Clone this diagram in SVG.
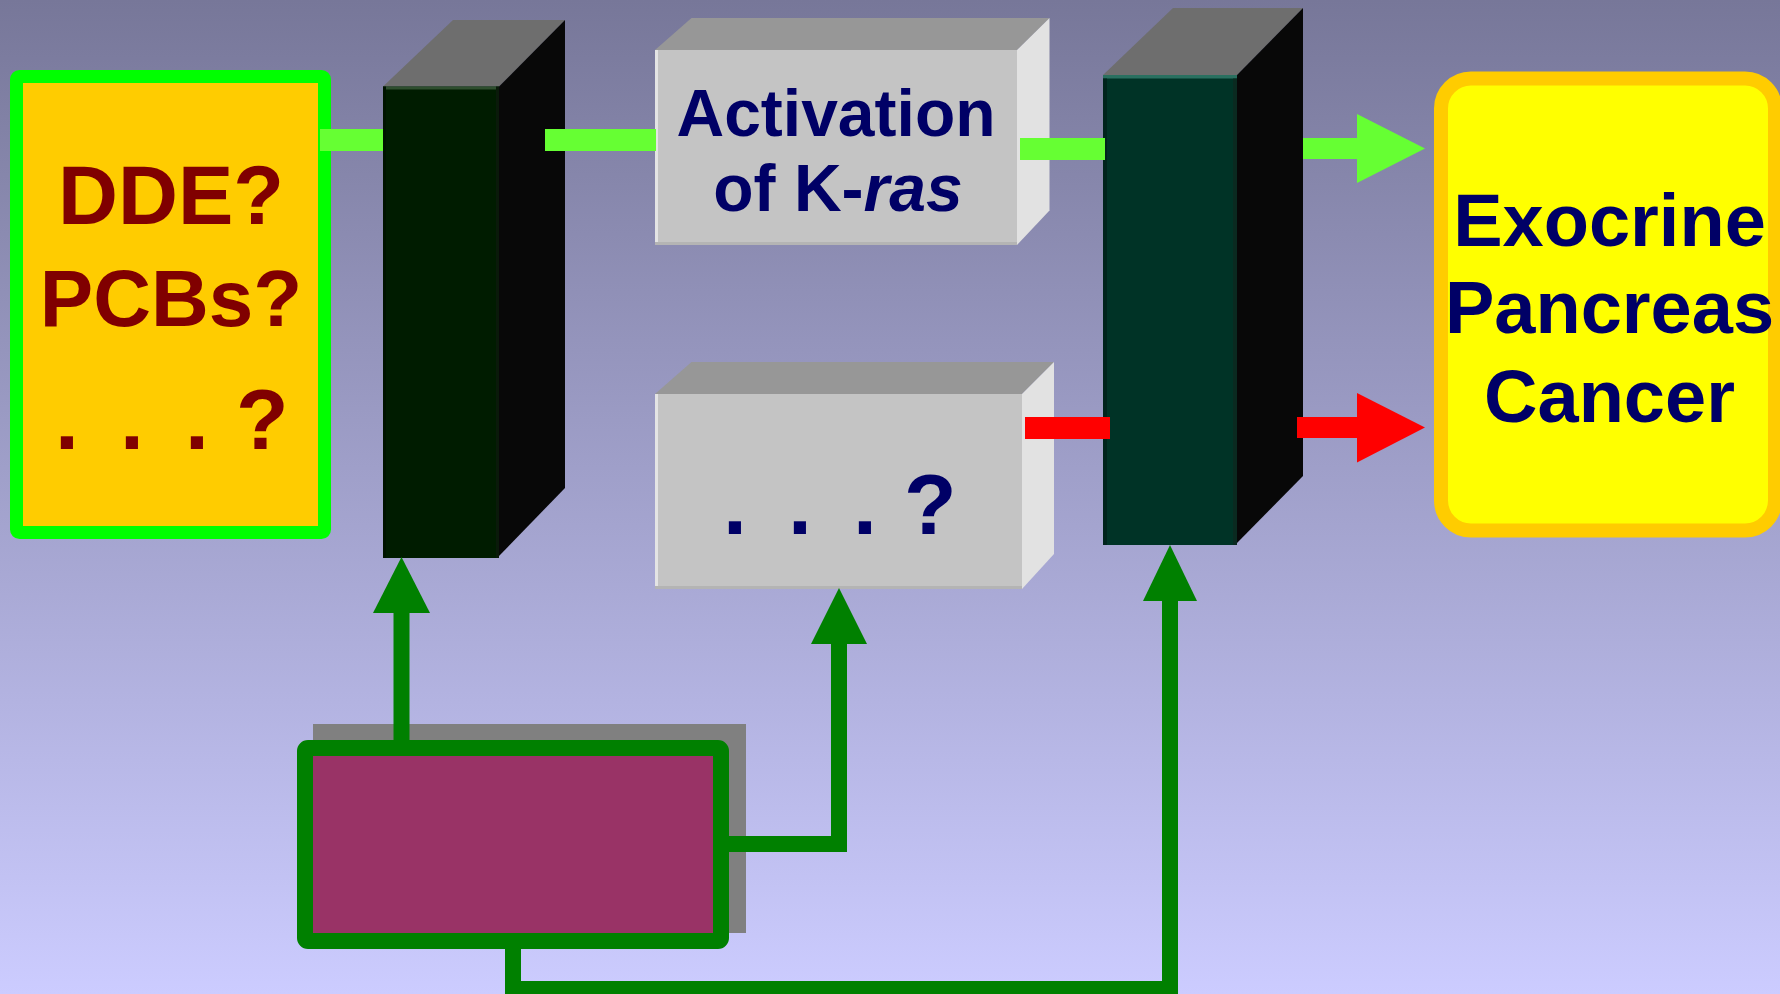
<svg xmlns="http://www.w3.org/2000/svg" width="1780" height="994" viewBox="0 0 1780 994">
<defs>
<linearGradient id="bg" x1="0" y1="0" x2="0" y2="1">
<stop offset="0" stop-color="#777799"/>
<stop offset="1" stop-color="#ccccff"/>
</linearGradient>
<style>
text{font-family:"Liberation Sans",Arial,sans-serif;font-weight:bold;}
.maroon{fill:#800000;font-size:83px;}
.navy{fill:#000066;}
.lime{fill:#66ff33;}
.red{fill:#ff0000;}
.dg{fill:none;stroke:#008000;stroke-width:16;stroke-linejoin:miter;stroke-linecap:butt;}
.dgh{fill:#008000;}
.top{fill:#6e6e6e;}
.side{fill:#080808;}
.gtop{fill:#979797;}
.gfront{fill:#c4c4c4;}
.gside{fill:#e2e2e2;}
</style>
</defs>
<rect x="0" y="0" width="1780" height="994" fill="url(#bg)"/>

<g id="exposure">
<rect x="16.5" y="76.5" width="308" height="456" rx="3" fill="#ffcc00" stroke="#00ff00" stroke-width="13"/>
<text class="maroon" x="171" y="224" text-anchor="middle">DDE?</text>
<text class="maroon" x="171" y="326" text-anchor="middle" style="font-size:80px">PCBs?</text>
<text class="maroon" x="55 120 185 236" y="449" style="font-size:86px">...?</text>
</g>

<g id="block1">
<polygon class="top" points="383,86.5 453,20 565,20 499,86.5"/>
<polygon class="side" points="499,86.5 565,20 565,488 499,556"/>
<rect x="383" y="86.5" width="116" height="471.5" fill="#001c00"/>
<rect x="383" y="86.5" width="116" height="3" fill="#2e4e2e"/>
<rect x="383" y="86.5" width="3" height="471.5" fill="#001400"/>
<rect x="496" y="86.5" width="3" height="471.5" fill="#0a1a0a"/>
</g>

<g id="kras">
<polygon class="gtop" points="655,50 691.5,18 1049.5,18 1017,50"/>
<polygon class="gside" points="1017,50 1049.5,18 1049.5,210.5 1017,245"/>
<rect class="gfront" x="655" y="50" width="362" height="195"/>
<rect x="655" y="50" width="3" height="195" fill="#e4e4e4"/>
<rect x="655" y="242" width="362" height="3" fill="#b4b4b4"/>
<text class="navy" x="836" y="136" text-anchor="middle" style="font-size:66px">Activation</text>
<text class="navy" x="838" y="211" text-anchor="middle" style="font-size:66px">of K-<tspan font-style="italic">ras</tspan></text>
</g>

<g id="unknown">
<polygon class="gtop" points="655,394 691.5,362 1054,362 1022,394"/>
<polygon class="gside" points="1022,394 1054,362 1054,554 1022,589"/>
<rect class="gfront" x="655" y="394" width="367" height="195"/>
<rect x="655" y="394" width="3" height="195" fill="#e4e4e4"/>
<rect x="655" y="586" width="367" height="3" fill="#b4b4b4"/>
<text class="navy" x="723 788 853 904" y="534" style="font-size:86px">...?</text>
</g>

<g id="block2">
<polygon class="top" points="1103,75 1173,8 1303,8 1237,75"/>
<polygon class="side" points="1237,75 1303,8 1303,476 1237,543"/>
<rect x="1103" y="75" width="134" height="470" fill="#003326"/>
<rect x="1103" y="75" width="134" height="3.5" fill="#2a7060"/>
<rect x="1103" y="78.5" width="4" height="466.5" fill="#00241c"/>
<rect x="1233" y="78.5" width="4" height="466.5" fill="#0a2a20"/>
</g>

<g id="cancer">
<rect x="1441" y="78.5" width="334" height="452" rx="30" fill="#ffff00" stroke="#ffcc00" stroke-width="14"/>
<text class="navy" x="1609.5" y="246" text-anchor="middle" style="font-size:74px">Exocrine</text>
<text class="navy" x="1609.5" y="333" text-anchor="middle" style="font-size:74px">Pancreas</text>
<text class="navy" x="1609.5" y="422" text-anchor="middle" style="font-size:74px">Cancer</text>
</g>

<g id="host">
<rect x="313" y="724" width="433" height="209" fill="#808080"/>
<rect x="305" y="748" width="416" height="193" rx="3" fill="#993366" stroke="#008000" stroke-width="16"/>
</g>

<g id="connectors">
<rect class="lime" x="320" y="129" width="63" height="22"/>
<rect class="lime" x="545" y="129" width="111" height="22"/>
<rect class="lime" x="1020" y="138" width="85" height="22"/>
<rect class="lime" x="1303" y="138" width="55" height="21"/>
<polygon class="lime" points="1357,114 1425,148.5 1357,183"/>
<rect class="red" x="1025" y="417" width="85" height="22"/>
<rect class="red" x="1297" y="417" width="61" height="21"/>
<polygon class="red" points="1357,393 1425,427.5 1357,462.5"/>
<line class="dg" x1="401.5" y1="748" x2="401.5" y2="612"/>
<polygon class="dgh" points="373,613 401.5,557 430,613"/>
<polyline class="dg" points="721,844 839,844 839,643"/>
<polygon class="dgh" points="811,644 839,588 867,644"/>
<polyline class="dg" points="513,941 513,989 1170,989 1170,600"/>
<polygon class="dgh" points="1143,601 1170,545 1197,601"/>
</g>
</svg>
